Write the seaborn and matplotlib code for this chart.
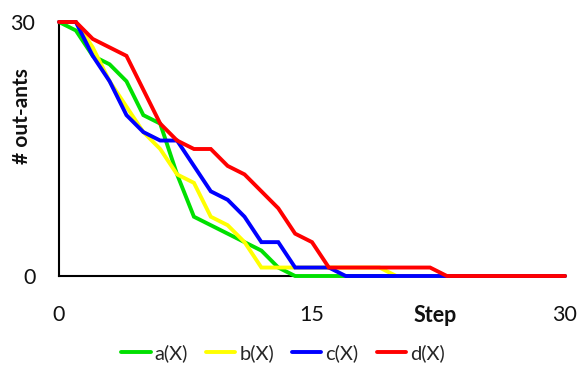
import numpy as np
import pandas as pd
import matplotlib
matplotlib.use("Agg")
import matplotlib.pyplot as plt
import seaborn as sns

# Number of ants still outside the nest at each step, for four runs
steps = list(range(31))
a_x = [30, 29, 26, 25, 23, 19, 18, 12, 7, 6, 5, 4, 3, 1, 0, 0, 0, 0, 0, 0, 0, 0, 0, 0, 0, 0, 0, 0, 0, 0, 0]
b_x = [30, 30, 27, 23, 20, 17, 15, 12, 11, 7, 6, 4, 1, 1, 1, 1, 1, 1, 1, 1, 0, 0, 0, 0, 0, 0, 0, 0, 0, 0, 0]
c_x = [30, 30, 26, 23, 19, 17, 16, 16, 13, 10, 9, 7, 4, 4, 1, 1, 1, 0, 0, 0, 0, 0, 0, 0, 0, 0, 0, 0, 0, 0, 0]
d_x = [30, 30, 28, 27, 26, 22, 18, 16, 15, 15, 13, 12, 10, 8, 5, 4, 1, 1, 1, 1, 1, 1, 1, 0, 0, 0, 0, 0, 0, 0, 0]

series_names = ["a(X)", "b(X)", "c(X)", "d(X)"]
series_colors = ["#00E000", "#FFFF00", "#0000FF", "#FF0000"]
x_tick_labels = ["0", "", "", "15", "", "", "30"]
y_tick_labels = ["0", "", "30"]

df = pd.DataFrame({
    "Step": steps * 4,
    "ants": a_x + b_x + c_x + d_x,
    "run": sum([[n] * len(steps) for n in series_names], []),
})

sns.set_theme(style="white")
plt.rcParams["font.family"] = ["Lato", "DejaVu Sans"]

fig = plt.figure(figsize=(5.77, 3.65), dpi=100)
ax = fig.add_axes([59 / 577, 1 - 276 / 365, 506 / 577, 254 / 365])

sns.lineplot(data=df, x="Step", y="ants", hue="run",
             palette=dict(zip(series_names, series_colors)),
             linewidth=2.8, ax=ax, legend=True, errorbar=None)
for ln in ax.lines:
    ln.set_clip_on(False)
    ln.set_zorder(3)
    ln.set_solid_joinstyle("miter")

ax.set_xlim(0, 30)
ax.set_ylim(0, 30)

for side in ["top", "right"]:
    ax.spines[side].set_visible(False)
for side in ["left", "bottom"]:
    ax.spines[side].set_color("black")
    ax.spines[side].set_linewidth(1.5)

ax.set_xticks(range(0, 31, 5))
ax.set_xticklabels(x_tick_labels)
ax.set_yticks([0, 15, 30])
ax.set_yticklabels(y_tick_labels)
ax.tick_params(axis="both", direction="in", length=4, width=1, color="black",
               labelsize=15.5, labelcolor="#111111")
ax.tick_params(axis="x", pad=21)
ax.tick_params(axis="y", pad=17)

ax.set_xlabel("Step", fontsize=15.5, fontweight="bold", color="#111111")
ax.xaxis.set_label_coords((435 - 59) / 506, (276 - 315) / 254)
ax.xaxis.label.set_va("center")
ax.set_ylabel("# out-ants", fontsize=15, fontweight="bold", color="#111111")
ax.yaxis.set_label_coords((22.5 - 59) / 506, (276 - 116) / 254)
ax.yaxis.label.set_va("center")

handles, labels = ax.get_legend_handles_labels()
ax.get_legend().remove()
fig.legend(handles, labels, ncol=4, loc="center", bbox_to_anchor=(283 / 577, 1 - 353 / 365),
           frameon=False, fontsize=14.5, handlelength=1.45, handletextpad=0.2,
           columnspacing=0.9, borderpad=0)

fig.savefig("out.png", dpi=100)
